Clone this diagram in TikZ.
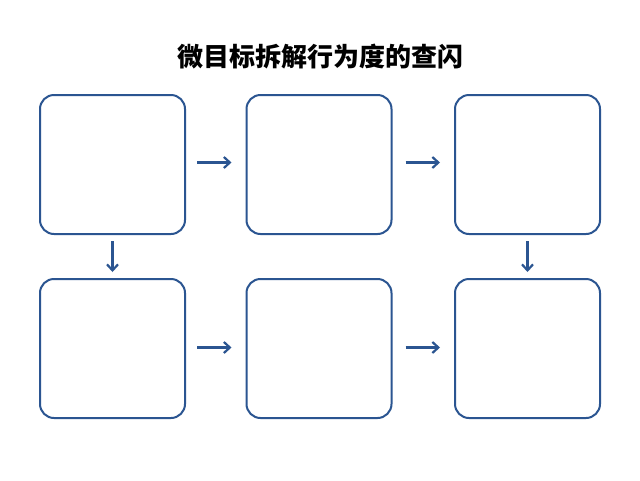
\documentclass[tikz,border=0pt]{standalone}
\usepackage{fontspec}
\newfontfamily\cjk{Noto Sans CJK SC}[BoldFont={Noto Sans CJK SC Black}]
\usetikzlibrary{arrows.meta}
\definecolor{bl}{HTML}{2B5591}
\begin{document}
\begin{tikzpicture}[x=1pt,y=-1pt,
 box/.style={draw=bl,line width=2pt,rounded corners=14pt,minimum width=145pt,minimum height=139pt,inner sep=0},
 arr/.style={draw=bl,line width=2.2pt,-{Straight Barb[length=6pt,width=11pt]}}]
\useasboundingbox[fill=white] (0,0) rectangle (640,480);
\node[font=\cjk\bfseries\fontsize{26}{30}\selectfont] (t) at (320,57) {微目标拆解行为度的查闪};
\node[box] (a) at (112.5,164.5) {};
\node[box] (b) at (319,164.5) {};
\node[box] (c) at (527.5,164.5) {};
\node[box] (d) at (112.5,348.5) {};
\node[box] (e) at (319,348.5) {};
\node[box] (f) at (527.5,348.5) {};
\draw[arr] ([xshift=11pt,yshift=2pt]a.east) -- ([xshift=-14pt,yshift=2pt]b.west);
\draw[arr] ([xshift=13pt,yshift=2pt]b.east) -- ([xshift=-14pt,yshift=2pt]c.west);
\draw[arr] ([xshift=11pt,yshift=1pt]d.east) -- ([xshift=-14pt,yshift=1pt]e.west);
\draw[arr] ([xshift=13pt,yshift=1pt]e.east) -- ([xshift=-14pt,yshift=1pt]f.west);
\draw[arr] ([yshift=-6pt]a.south) -- ([yshift=6pt]d.north);
\draw[arr] ([yshift=-6pt]c.south) -- ([yshift=6pt]f.north);
\end{tikzpicture}
\end{document}
